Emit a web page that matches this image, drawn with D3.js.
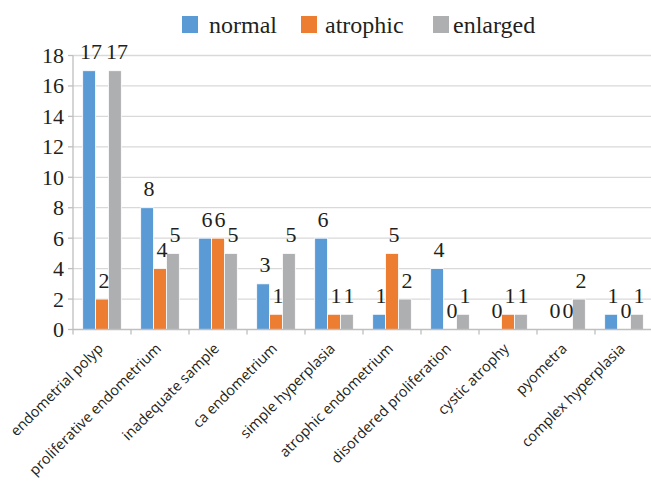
<!DOCTYPE html>
<html><head><meta charset="utf-8">
<script src="https://cdn.jsdelivr.net/npm/d3@7"></script>
</head><body style="margin:0">
<script>
const categories = ["endometrial polyp","proliferative endometrium","inadequate sample","ca endometrium","simple hyperplasia","atrophic endometrium","disordered proliferation","cystic atrophy","pyometra","complex hyperplasia"];
const seriesNames = ["normal","atrophic","enlarged"];
const normalVals   = [17, 8, 6, 3, 6, 1, 4, 0, 0, 1];
const atrophicVals = [2, 4, 6, 1, 1, 5, 0, 1, 0, 0];
const enlargedVals = [17, 5, 5, 5, 1, 2, 1, 1, 2, 1];
const yTicks = [0,2,4,6,8,10,12,14,16,18];
const colors = ["#5B9BD5","#ED7D31","#AEAFB1"];

const SERIF = "Times, 'Liberation Serif', Tinos, serif";
const SANS = "'Open Sans', sans-serif";
const W = 651, H = 484;
const svg = d3.select("body").append("svg").attr("width", W).attr("height", H);
const pLeft = 73, pRight = 653, pTop = 55.5, pBottom = 329.5;
const y = d3.scaleLinear().domain([0,18]).range([pBottom, pTop]);
const x0 = d3.scaleBand().domain(categories).range([pLeft, pRight]).padding(0);
const step = x0.step();
const x1 = d3.scaleBand().domain(seriesNames).range([step*0.167, step*0.833]).padding(0);
const values = [normalVals, atrophicVals, enlargedVals];

svg.append("g").selectAll("line").data(yTicks.filter(d=>d>0)).join("line")
  .attr("x1", pLeft).attr("x2", W).attr("y1", d=>y(d)).attr("y2", d=>y(d))
  .attr("stroke", "#D9D9D9").attr("stroke-width", 1.3);

categories.forEach((c, i) => {
  seriesNames.forEach((s, j) => {
    const v = values[j][i];
    if (v > 0) {
      svg.append("rect")
        .attr("x", x0(c) + x1(s)).attr("width", x1.bandwidth())
        .attr("y", y(v)).attr("height", y(0) - y(v))
        .attr("fill", colors[j]).attr("stroke", "#fff").attr("stroke-width", 0.8);
    }
  });
});

categories.forEach((c, i) => {
  seriesNames.forEach((s, j) => {
    const v = values[j][i];
    svg.append("text")
      .attr("font-family", SERIF).style("font-family", SERIF)
      .attr("x", x0(c) + x1(s) + x1.bandwidth()/2 + 2)
      .attr("y", y(v) - 11.5)
      .attr("text-anchor", "middle")
      .attr("font-size", 22).attr("fill", "#231F20")
      .text(v);
  });
});

svg.append("line").attr("x1", pLeft).attr("x2", pLeft).attr("y1", pTop).attr("y2", pBottom)
  .attr("stroke", "#BFBFBF").attr("stroke-width", 1.3);
svg.selectAll(".ytk").data(yTicks).join("line").attr("class","ytk")
  .attr("x1", pLeft - 5).attr("x2", pLeft).attr("y1", d=>y(d)).attr("y2", d=>y(d))
  .attr("stroke", "#BFBFBF").attr("stroke-width", 1.3);
svg.selectAll(".ylb").data(yTicks).join("text").attr("class","ylb")
  .attr("font-family", SERIF).style("font-family", SERIF)
  .attr("x", pLeft - 9).attr("y", d=>y(d)).attr("dy", "0.34em")
  .attr("text-anchor", "end")
  .attr("font-size", 22).attr("fill", "#231F20")
  .text(d=>d);

svg.append("line").attr("x1", pLeft).attr("x2", W).attr("y1", pBottom).attr("y2", pBottom)
  .attr("stroke", "#BFBFBF").attr("stroke-width", 1.3);
const bounds = d3.range(categories.length + 1).map(i => pLeft + i*step);
svg.selectAll(".tk").data(bounds).join("line").attr("class","tk")
  .attr("x1", d=>d).attr("x2", d=>d).attr("y1", pBottom).attr("y2", pBottom + 5)
  .attr("stroke", "#BFBFBF").attr("stroke-width", 1.3);
svg.selectAll(".lbl").data(categories).join("text").attr("class","lbl")
  .attr("transform", d => `translate(${x0(d) + step/2 + 2},${pBottom + 20}) rotate(-45)`)
  .attr("text-anchor", "end")
  .attr("font-family", SANS).style("font-family", SANS)
  .attr("font-size", 14.5).attr("fill", "#231F20")
  .text(d => d);

const legX = [182, 301, 433];
const legTextX = [209, 325, 453];
seriesNames.forEach((s, j) => {
  svg.append("rect").attr("x", legX[j]).attr("y", 16).attr("width", 16).attr("height", 17).attr("fill", colors[j]);
  svg.append("text").attr("font-family", SERIF).style("font-family", SERIF)
    .attr("x", legTextX[j]).attr("y", 33)
    .attr("font-size", 24).attr("fill", "#231F20").text(s);
});
</script>
</body></html>
